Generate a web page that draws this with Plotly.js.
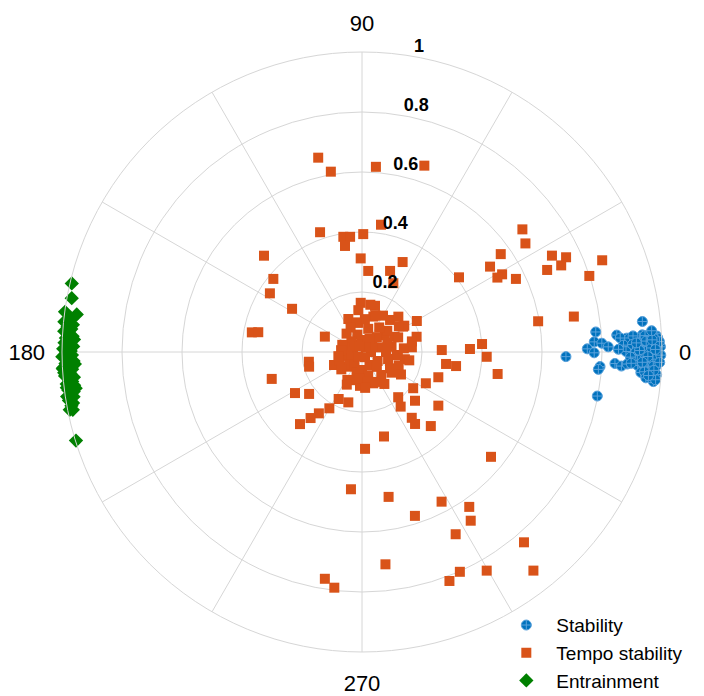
<!DOCTYPE html>
<html>
<head>
<meta charset="utf-8">
<script src="https://cdn.plot.ly/plotly-3.0.1.min.js"></script>
<style>html,body{margin:0;padding:0;background:#fff;}#chart{width:704px;height:696px;}</style>
</head>
<body>
<div id="chart"></div>
<script>
// ---- Data (theta in degrees, r in 0..1) ----
const seriesNames = ["Stability", "Tempo stability", "Entrainment"];

const stabilityTheta = [358.7, 4.9, 2.5, 0.8, 359.8, 2.1, 1.2, 357.4, 356.5, 355.8, 349.4, 6.2, 354.2, 3.8, 3.0, 2.5, 3.5, 3.1,
  3.1, 3.0, 2.9, 2.8, 2.7, 3.3, 2.6, 3.4,
  1.5, 1.6, 1.4, 1.5, 1.7, 1.3, 1.8, 1.2,
  0.1, 359.9, 0.2, 0.0, 359.8, 0.3, 359.7, 0.1,
  358.6, 358.5, 358.7, 358.4, 358.8, 358.6, 358.3,
  357.2, 357.3, 357.0, 357.1, 356.9, 357.4, 357.0, 357.2,
  355.8, 355.9, 355.7, 355.6, 356.0,
  354.8, 354.9, 354.6,
  2.2, 0.8, 359.1, 357.9, 356.4, 1.0, 2.0, 359.4, 358.0, 0.5, 2.4, 1.9, 358.9, 357.6, 355.3, 4.2, 0.6];
const stabilityR = [0.680, 0.782, 0.775, 0.751, 0.774, 0.800, 0.821, 0.844, 0.795, 0.790, 0.798, 0.940, 0.976, 0.851, 0.883, 0.911, 0.936, 0.984,
  0.862, 0.893, 0.927, 0.960, 0.987, 0.945, 0.975, 0.905,
  0.872, 0.902, 0.932, 0.962, 0.988, 0.947, 0.917, 0.975,
  0.880, 0.912, 0.941, 0.970, 0.990, 0.925, 0.957, 0.982,
  0.902, 0.931, 0.958, 0.981, 0.945, 0.970, 0.918,
  0.920, 0.940, 0.962, 0.980, 0.866, 0.885, 0.952, 0.972,
  0.932, 0.951, 0.969, 0.985, 0.944,
  0.950, 0.968, 0.983,
  0.948, 0.965, 0.953, 0.935, 0.975, 0.995, 0.992, 0.996, 0.993, 0.978, 0.968, 0.915, 0.895, 0.898, 0.958, 0.968, 0.855];

const tempoTheta = [102.7, 99.8, 85.7, 71.5, 81.5, 109.3, 99.2, 95.9, 99.1, 89.4,
  135.5, 140.5, 147.5, 148.3, 169.9, 169.2, 157.5, 90.8, 85.6, 70.9,
  65.7, 65.5, 91.5, 74.3, 112.5, 97.2, 48.8, 44.2, 31.7, 37.6,
  37.4, 33.6, 35.2, 33.7, 29.0, 28.8, 25.4, 26.9, 24.9, 23.9,
  23.5, 18.5, 20.9, 9.9, 9.5, 29.5, 15.6, 5.4, 1.4, 1.6,
  3.8, 31.9, 357.8, 350.8, 351.9, 351.5, 341.7, 333.9, 324.7, 308.7,
  305.3, 317.4, 324.9, 307.1, 306.4, 312.9, 284.6, 320.9, 280.4, 298.0,
  287.9, 304.7, 302.8, 297.2, 310.4, 276.3, 294.0, 299.7, 308.1, 290.9,
  190.4, 195.5, 204.9, 196.6, 211.5, 218.4, 243.6, 254.8, 239.9, 234.9,
  232.1, 229.3, 242.3, 266.6, 289.9, 271.8, 265.4, 260.7, 263.3, 36.5,
  176.8, 227.0, 355.1, 350.4, 329.8, 72.2,
  0, 15, 30, 45, 60, 75, 90, 105, 120, 135, 150, 165, 180, 195, 210, 225, 240, 255, 270, 285, 300, 315, 330, 345,
  10, 25, 40, 55, 70, 85, 100, 115, 130, 200, 220, 250, 265, 280, 295, 310, 325, 340, 355, 5,
  20, 50, 110, 230, 300, 0, 35, 60, 80, 95, 330, 305, 275, 245, 160, 175, 190, 12, 350, 22];
const tempoR = [0.664, 0.610, 0.619, 0.655, 0.429, 0.423, 0.389, 0.386, 0.358, 0.393,
  0.458, 0.383, 0.364, 0.274, 0.373, 0.352, 0.134, 0.312, 0.271, 0.286,
  0.329, 0.252, 0.164, 0.160, 0.119, 0.098, 0.142, 0.169, 0.161, 0.408,
  0.673, 0.654, 0.566, 0.513, 0.534, 0.515, 0.568, 0.710, 0.750, 0.675,
  0.724, 0.799, 0.857, 0.596, 0.716, 0.210, 0.189, 0.167, 0.266, 0.360,
  0.401, 0.166, 0.416, 0.458, 0.283, 0.317, 0.268, 0.237, 0.209, 0.193,
  0.223, 0.240, 0.311, 0.275, 0.298, 0.337, 0.291, 0.554, 0.491, 0.565,
  0.574, 0.628, 0.669, 0.683, 0.833, 0.712, 0.802, 0.839, 0.926, 0.817,
  0.180, 0.183, 0.103, 0.314, 0.262, 0.225, 0.175, 0.174, 0.217, 0.250,
  0.279, 0.317, 0.105, 0.113, 0.111, 0.323, 0.459, 0.766, 0.791, 0.095,
  0.059, 0.067, 0.116, 0.145, 0.108, 0.124,
  0.03, 0.06, 0.04, 0.07, 0.05, 0.08, 0.04, 0.06, 0.03, 0.05, 0.04, 0.06, 0.03, 0.05, 0.04, 0.06, 0.05, 0.07, 0.06, 0.08, 0.05, 0.07, 0.06, 0.09,
  0.10, 0.12, 0.11, 0.10, 0.13, 0.11, 0.10, 0.09, 0.08, 0.08, 0.09, 0.10, 0.09, 0.10, 0.11, 0.10, 0.12, 0.13, 0.12, 0.14,
  0.09, 0.02, 0.02, 0.02, 0.02, 0.08, 0.15, 0.14, 0.16, 0.14, 0.15, 0.13, 0.12, 0.12, 0.07, 0.07, 0.08, 0.17, 0.16, 0.13];

const entrainTheta = [166.7, 169.5, 172.5, 172.3, 197.2, 191.3, 191.2,
  173.5, 174.0, 174.6, 175.1, 175.5, 176.0, 176.4, 176.9, 177.3, 177.8, 178.2, 178.6, 179.0, 179.4, 179.8,
  180.2, 180.6, 181.0, 181.4, 181.8, 182.2, 182.6, 183.0, 183.4, 183.8, 184.2, 184.6, 185.0, 185.4, 185.8,
  186.2, 186.6, 187.0, 187.4, 187.8, 188.3, 188.8, 189.4, 190.0, 190.5,
  174.2, 175.8, 177.5, 179.2, 180.9, 182.4, 184.0, 185.6, 187.2, 188.6, 176.6, 183.2, 186.9, 178.9];
const entrainR = [0.994, 0.984, 0.959, 0.999, 0.998, 0.983, 0.993,
  0.975, 0.990, 0.968, 0.985, 0.972, 0.995, 0.978, 0.966, 0.988, 0.974, 0.992, 0.969, 0.983, 0.996, 0.971,
  0.986, 0.967, 0.991, 0.976, 0.962, 0.989, 0.973, 0.997, 0.968, 0.984, 0.975, 0.993, 0.964, 0.982, 0.971,
  0.990, 0.966, 0.979, 0.987, 0.970, 0.982, 0.973, 0.990, 0.978, 0.985,
  0.997, 0.979, 0.961, 0.980, 0.999, 0.958, 0.995, 0.977, 0.962, 0.994, 0.982, 0.999, 0.991, 0.963];

const radialTicks = [0.2, 0.4, 0.6, 0.8, 1];
const radialTickText = ["0.2", "0.4", "0.6", "0.8", "1"];
const angularTicks = [0, 30, 60, 90, 120, 150, 180, 210, 240, 270, 300, 330];
const angularTickText = ["0", "", "", "90", "", "", "180", "", "", "270", "", ""];
const radialLabelAngle = 80;

const colors = ["#0072BD", "#D95319", "#008000"];
const gridColor = "#d6d6d6";
const fontFam = "'Liberation Sans', Arial, Helvetica, sans-serif";

const traces = [
  {type: "scatterpolar", mode: "markers", name: seriesNames[0], theta: stabilityTheta, r: stabilityR,
   marker: {symbol: "circle-cross", size: 10, color: colors[0], line: {color: "#5aa2dc", width: 1}}},
  {type: "scatterpolar", mode: "markers", name: seriesNames[1], theta: tempoTheta, r: tempoR,
   marker: {symbol: "square", size: 10, color: colors[1], line: {width: 0}}},
  {type: "scatterpolar", mode: "markers", name: seriesNames[2], theta: entrainTheta, r: entrainR,
   marker: {symbol: "diamond", size: 11, color: colors[2], line: {width: 0}}},
  {type: "scatterpolar", mode: "text", showlegend: false, hoverinfo: "skip", cliponaxis: false,
   theta: radialTicks.map(() => radialLabelAngle), r: radialTicks, text: radialTickText,
   textposition: "top right", textfont: {family: fontFam, size: 18, color: "#000", weight: "bold"}}
];

const layout = {
  width: 704, height: 696,
  margin: {l: 0, r: 0, t: 0, b: 0, autoexpand: false},
  paper_bgcolor: "#fff",
  showlegend: true,
  legend: {x: 0.705, y: -0.006, xanchor: "left", yanchor: "bottom", bgcolor: "rgba(0,0,0,0)",
    itemwidth: 50, font: {family: fontFam, size: 19, color: "#000"}},
  polar: {
    domain: {x: [62/704, 662/704], y: [44/696, 644/696]},
    bgcolor: "#fff",
    radialaxis: {range: [0, 1], tickvals: radialTicks, showticklabels: false, ticks: "",
      showline: false, gridcolor: gridColor, gridwidth: 1, angle: radialLabelAngle},
    angularaxis: {rotation: 0, direction: "counterclockwise", tickvals: angularTicks, ticktext: angularTickText,
      showline: true, linecolor: gridColor, linewidth: 1, gridcolor: gridColor, gridwidth: 1,
      ticks: "outside", ticklen: 12, tickcolor: "rgba(0,0,0,0)",
      tickfont: {family: fontFam, size: 22, color: "#000"}}
  }
};

Plotly.newPlot("chart", traces, layout, {displayModeBar: false, staticPlot: true});
</script>
</body>
</html>
